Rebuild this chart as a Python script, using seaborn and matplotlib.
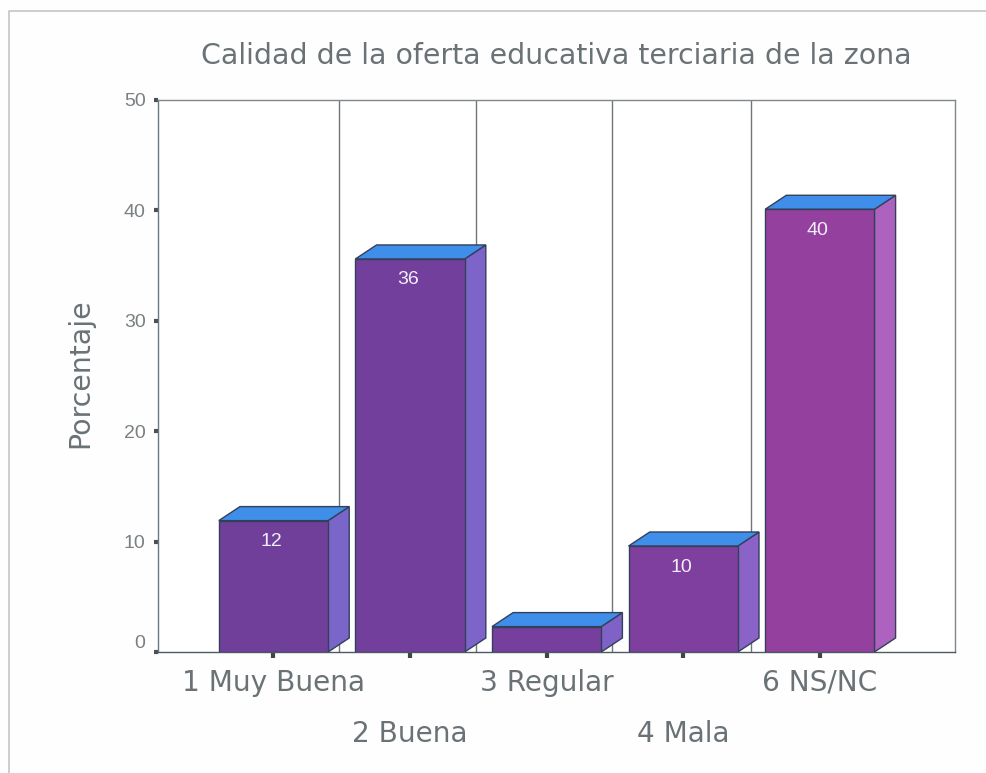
import matplotlib
matplotlib.use('Agg')
import matplotlib.pyplot as plt
import pandas as pd
import seaborn as sns
from matplotlib.lines import Line2D
from matplotlib.patches import Polygon

categories = ['1 Muy Buena', '2 Buena', '3 Regular', '4 Mala', '6 NS/NC']
percent = [11.9, 35.6, 2.3, 9.6, 40.1]
bar_labels = ['12', '36', '', '10', '40']
y_ticks = [0, 10, 20, 30, 40, 50]
grid_pos = [0.48, 1.48, 2.48, 3.495]

front_colors = ['#6f3f9a', '#733f9c', '#763f9e', '#7f3f9e', '#94409e']
side_colors = ['#7a66c9', '#7c64c8', '#7f62c6', '#8a62c8', '#ad62c0']
top_color = '#3f8eea'
edge_color = '#33405a'
text_color = '#6a7276'

sns.set_theme(style='white')
plt.rcParams['font.family'] = ['DejaVu Sans']

df = pd.DataFrame({'categoria': categories, 'porcentaje': percent})

fig = plt.figure(figsize=(9.86, 7.73), dpi=100, facecolor='#fefefe')
ax = fig.add_axes([158 / 986, 1 - 652 / 773, (955 - 158) / 986, (652 - 100) / 773])
ax.set_facecolor('white')

# scan leaves only the top and left edges of the frame
fig.add_artist(Line2D([8.5 / 986, 8.5 / 986, 1], [0, 1 - 11 / 773, 1 - 11 / 773],
                      transform=fig.transFigure, color='#c4c6c6', linewidth=1.2))

sns.barplot(data=df, x='categoria', y='porcentaje', hue='categoria', palette=front_colors,
            legend=False, width=0.8, edgecolor=edge_color, linewidth=1, saturation=1, ax=ax, zorder=3)

ax.set_xlim(-0.845, 4.99)
ax.set_ylim(0, 49.9)

# depth of the fake 3D bars, in data units
depth_x = 0.155
depth_y = 1.27

for pos in grid_pos:
    ax.axvline(pos, color='#70767a', linewidth=1, zorder=1)

for patch, side, label in zip(ax.patches, side_colors, bar_labels):
    x0 = patch.get_x()
    x1 = x0 + patch.get_width()
    h = patch.get_height()
    ax.add_patch(Polygon([(x1, 0), (x1 + depth_x, depth_y), (x1 + depth_x, h + depth_y), (x1, h)],
                         facecolor=side, edgecolor=edge_color, linewidth=1, zorder=2.5))
    ax.add_patch(Polygon([(x0, h), (x0 + depth_x, h + depth_y), (x1 + depth_x, h + depth_y), (x1, h)],
                         facecolor=top_color, edgecolor=edge_color, linewidth=1, zorder=2.5))
    if label:
        ax.annotate(label, (x0 + patch.get_width() / 2, h), xytext=(-2, -21), textcoords='offset pixels',
                    ha='center', va='center', color='#f2eef8', fontsize=14,
                    family='Liberation Sans', zorder=4)

for spine in ax.spines.values():
    spine.set_visible(True)
    spine.set_color('#80868a')
    spine.set_linewidth(1)
ax.spines['bottom'].set_color('#4d5a60')
ax.spines['left'].set_color('#6a7a80')

ax.set_yticks(y_ticks)
ax.set_xlabel('')
ax.set_ylabel('Porcentaje', fontsize=20.4, color=text_color, labelpad=21, y=0.505)
ax.tick_params(axis='y', length=3, width=3, color='#4a5054', labelsize=14, labelcolor='#7a7f82', pad=6, left=True)
ax.tick_params(axis='x', length=4, width=3, color='#3f464a', labelsize=20.2, labelcolor=text_color, bottom=True)
for lab in ax.get_yticklabels():
    lab.set_family('Liberation Sans')
# the zero label sits above its tick
ax.get_yticklabels()[0].set_va('bottom')

# labels sit on two alternating rows
for i, tick in enumerate(ax.xaxis.get_major_ticks()):
    tick.set_pad(8 if i % 2 == 0 else 45)

fig.text(556 / 986, 1 - 56 / 773, 'Calidad de la oferta educativa terciaria de la zona',
         ha='center', va='center', fontsize=20.4, color=text_color)

fig.savefig('out.png', dpi=100, facecolor=fig.get_facecolor())
